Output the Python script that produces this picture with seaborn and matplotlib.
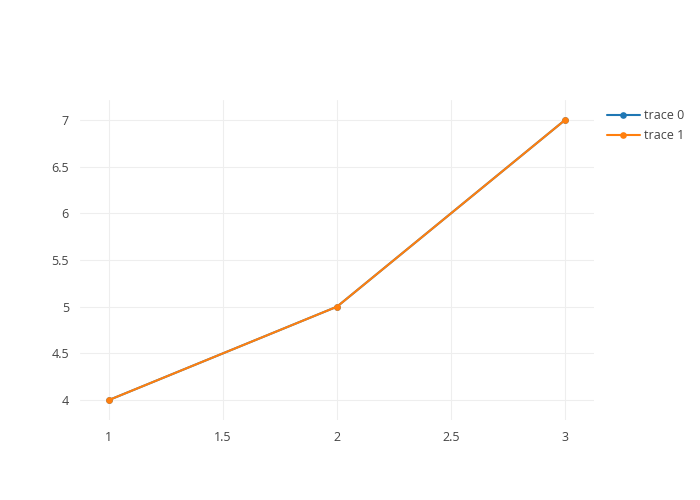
import pandas as pd
from matplotlib import pyplot as plt
import seaborn as sb

x_vals = [1, 2, 3]
trace0_y = [4, 5, 7]
trace1_y = [4, 5, 7]
trace_names = ['trace 0', 'trace 1']
colors = ['#1f77b4', '#ff7f0e']

df = pd.DataFrame({
    'x': x_vals + x_vals,
    'y': trace0_y + trace1_y,
    'trace': [trace_names[0]] * len(x_vals) + [trace_names[1]] * len(x_vals),
})

sb.set_style('white')
plt.rcParams['font.family'] = ['Open Sans', 'DejaVu Sans']

fig = plt.figure(figsize=(7, 5), dpi=100)
ax = fig.add_axes([80 / 700, 80 / 500, 514 / 700, 320 / 500])

# px -> pt at dpi 100: 2px line, 6px markers
sb.lineplot(data=df, x='x', y='y', hue='trace', palette=colors, marker='o',
            markersize=4.8, markeredgewidth=0, linewidth=1.5, ax=ax, legend=True)

ax.set_xlim(0.873, 3.127)
ax.set_ylim(3.786, 7.214)
ax.set_xticks([1, 1.5, 2, 2.5, 3])
ax.set_xticklabels(['1', '1.5', '2', '2.5', '3'])
ax.set_yticks([4, 4.5, 5, 5.5, 6, 6.5, 7])
ax.set_yticklabels(['4', '4.5', '5', '5.5', '6', '6.5', '7'])
ax.grid(True, color='#eeeeee', linewidth=0.75)
ax.set_axisbelow(True)
for s in ax.spines.values():
    s.set_visible(False)
ax.tick_params(length=0, labelsize=9, colors='#444444', pad=8)
ax.set_xlabel('')
ax.set_ylabel('')

handles, labels = ax.get_legend_handles_labels()
ax.legend_.remove()
fig.legend(handles, labels, loc='upper left', bbox_to_anchor=(602 / 700, 1 - 104 / 500),
           frameon=False, fontsize=9, labelcolor='#444444', handlelength=2.6,
           handletextpad=0.35, labelspacing=0.55, borderaxespad=0)

plt.savefig('out.png', dpi=100)
plt.close()
